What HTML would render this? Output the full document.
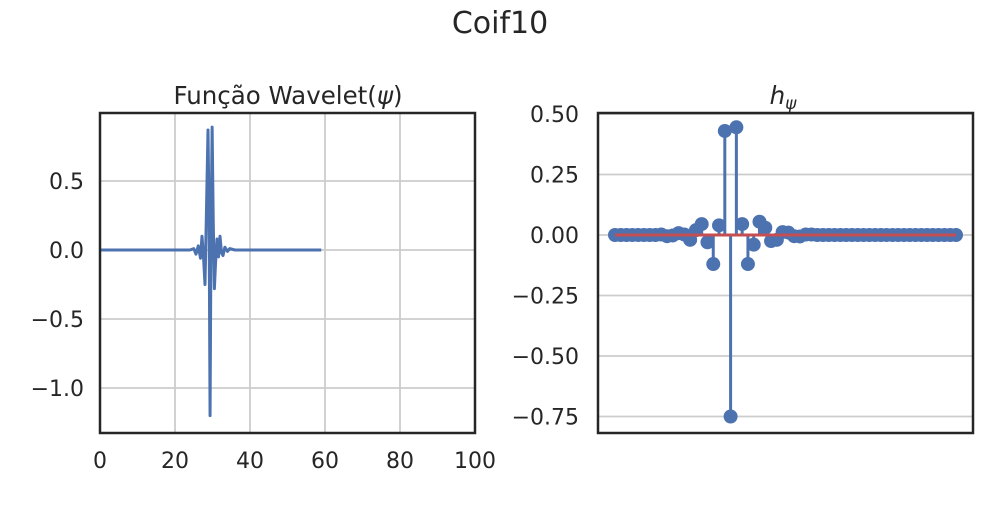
<!DOCTYPE html>
<html><head><meta charset="utf-8"><style>
body{margin:0;background:#fff;}
svg text{font-family:"DejaVu Sans","Liberation Sans",sans-serif;fill:#262626;}
</style></head><body>
<svg id="c" width="1000" height="500" xmlns="http://www.w3.org/2000/svg">
<text x="500" y="33" font-size="30" text-anchor="middle">Coif10</text>
<g id="L"></g><g id="R"></g>
</svg>
<script>
const psiX=[0,20,24,25,25.6,26.2,26.8,27.2,27.6,28,28.4,28.8,29.1,29.35,29.6,29.9,30.2,30.5,30.8,31.2,31.6,32,32.4,32.8,33.3,34,34.6,36,59];
const psiY=[0,0,0,0.01,-0.03,0.03,-0.06,0.1,-0.05,-0.25,0.3,0.87,0.2,-1.2,0.1,0.89,0.2,-0.28,-0.1,0.08,-0.05,0.1,-0.02,-0.04,0.02,-0.01,0.01,0,0];
const leftXTicks=[0,20,40,60,80,100];
const leftYTicks=[-1.0,-0.5,0.0,0.5];
const hVals=[0,0,0,0,0,0,0,0,0.002,-0.005,-0.002,0.008,0.002,-0.02,0.02,0.045,-0.03,-0.12,0.04,0.43,-0.75,0.445,0.045,-0.12,-0.04,0.055,0.03,-0.025,-0.02,0.012,0.01,-0.005,-0.006,0.002,0.002,0,0,0,0,0,0,0,0,0,0,0,0,0,0,0,0,0,0,0,0,0,0,0,0,0];
const rightYTicks=[-0.75,-0.5,-0.25,0,0.25,0.5];
const NS="http://www.w3.org/2000/svg";
function mk(p,t,a){const e=document.createElementNS(NS,t);for(const k in a)e.setAttribute(k,a[k]);p.appendChild(e);return e;}
const L=document.getElementById('L');
const lx=v=>100+v*3.75, ly=v=>250-v*138;
for(const t of leftXTicks){const g=mk(L,'line',{x1:lx(t),x2:lx(t),y1:113,y2:433,stroke:'#cccccc','stroke-width':1.8});

const tx=mk(L,'text',{x:lx(t),y:468,'font-size':22,'text-anchor':'middle'});tx.textContent=t;
}
for(const t of leftYTicks){const g=mk(L,'line',{x1:100,x2:475,y1:ly(t),y2:ly(t),stroke:'#cccccc','stroke-width':1.8});

const tx=mk(L,'text',{x:84,y:ly(t)+8,'font-size':22,'text-anchor':'end'});tx.textContent=t.toFixed(1).replace('-','\u2212');
}
const pl=mk(L,'polyline',{points:psiX.map((x,i)=>lx(x)+','+ly(psiY[i])).join(' '),fill:'none',stroke:'#4c72b0','stroke-width':3,'stroke-linejoin':'round'});

const lf=mk(L,'rect',{x:100,y:113,width:375,height:320,fill:'none',stroke:'#262626','stroke-width':2.5});

const lt=mk(L,'text',{x:288,y:104,'font-size':24.5,'text-anchor':'middle'});lt.textContent='Função Wavelet(';
const ps=mk(lt,'tspan',{'font-style':'italic'});ps.textContent='ψ';
const pe=mk(lt,'tspan',{});pe.textContent=')';

const R=document.getElementById('R');
const rx=i=>615+i*(341/(hVals.length-1)), ry=v=>235-v*242;
for(const t of rightYTicks){const g=mk(R,'line',{x1:598,x2:973,y1:ry(t),y2:ry(t),stroke:'#cccccc','stroke-width':1.8});

const tx=mk(R,'text',{x:579,y:ry(t)+8,'font-size':22,'text-anchor':'end'});tx.textContent=t.toFixed(2).replace('-','\u2212');
}
hVals.forEach((v,i)=>{const s=mk(R,'line',{x1:rx(i),x2:rx(i),y1:ry(0),y2:ry(v),stroke:'#4c72b0','stroke-width':3});
});
hVals.forEach((v,i)=>{const c=mk(R,'circle',{cx:rx(i),cy:ry(v),r:7,fill:'#4c72b0'});
});
const bl=mk(R,'line',{x1:rx(0),x2:rx(hVals.length-1),y1:ry(0),y2:ry(0),stroke:'#c44e52','stroke-width':3});

const rf=mk(R,'rect',{x:598,y:113,width:375,height:320,fill:'none',stroke:'#262626','stroke-width':2.5});

const rt=mk(R,'text',{x:783,y:104,'font-size':24.5,'text-anchor':'middle','font-style':'italic'});rt.textContent='h';
const sub=mk(rt,'tspan',{'font-size':17,dy:5});sub.textContent='ψ';

</script>
</body></html>
